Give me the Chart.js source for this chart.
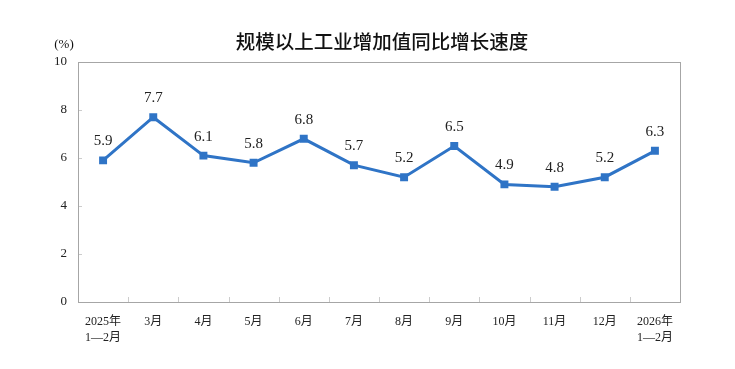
<!DOCTYPE html>
<html>
<head>
<meta charset="utf-8">
<script src="https://cdn.jsdelivr.net/npm/chart.js"></script>
<style>
  body { margin: 0; background: #fff; }
  #wrap { width: 735px; height: 369px; }
</style>
</head>
<body>
<div id="wrap"><canvas id="c" width="735" height="369"></canvas></div>
<script>
const chartTitle = "规模以上工业增加值同比增长速度"
const unitLabel = "(%)"
const months = [["2025年","1—2月"],"3月","4月","5月","6月","7月","8月","9月","10月","11月","12月",["2026年","1—2月"]]
const growth = [5.9, 7.7, 6.1, 5.8, 6.8, 5.7, 5.2, 6.5, 4.9, 4.8, 5.2, 6.3]
const yTicks = [0, 2, 4, 6, 8, 10]

const serif = "'Liberation Serif', 'Noto Sans CJK SC', serif"
const blue = "#2f74c6"

// frame, inward ticks, title and value labels
const decor = {
  id: "decor",
  beforeDatasetsDraw(chart) {
    const ctx = chart.ctx
    const a = chart.chartArea
    const x = chart.scales.x
    const y = chart.scales.y
    ctx.save()
    ctx.strokeStyle = "#cccccc"
    ctx.lineWidth = 1
    ctx.beginPath()
    for (let i = 1; i < growth.length; i++) {
      const px = Math.round((x.getPixelForValue(i - 1) + x.getPixelForValue(i)) / 2) + 0.5
      ctx.moveTo(px, a.bottom)
      ctx.lineTo(px, a.bottom - 5)
    }
    for (const v of yTicks.slice(1, -1)) {
      const py = Math.round(y.getPixelForValue(v)) + 0.5
      ctx.moveTo(a.left, py)
      ctx.lineTo(a.left + 4, py)
    }
    ctx.stroke()
    ctx.strokeStyle = "#a6a6a6"
    ctx.strokeRect(Math.round(a.left) + 0.5, Math.round(a.top) + 0.5, Math.round(a.right - a.left), Math.round(a.bottom - a.top))
    ctx.restore()
  },
  afterDatasetsDraw(chart) {
    const ctx = chart.ctx
    const a = chart.chartArea
    ctx.save()
    ctx.fillStyle = "#111"
    ctx.textAlign = "center"
    ctx.textBaseline = "middle"
    ctx.font = "500 19.5px 'Noto Sans CJK SC'"
    ctx.fillText(chartTitle, (a.left + a.right) / 2 + 3, 42)
    ctx.font = "13px " + serif
    ctx.fillText(unitLabel, 64, 45)
    ctx.font = "15px " + serif
    ctx.fillStyle = "#222"
    const meta = chart.getDatasetMeta(0)
    meta.data.forEach((pt, i) => {
      ctx.fillText(growth[i].toFixed(1), pt.x, pt.y - 19)
    })
    ctx.restore()
  }
}

new Chart(document.getElementById("c"), {
  type: "line",
  data: {
    labels: months,
    datasets: [{
      data: growth,
      borderColor: blue,
      backgroundColor: blue,
      borderWidth: 3,
      pointStyle: "rect",
      pointRadius: 3.5,
      pointHoverRadius: 3.5,
      tension: 0
    }]
  },
  options: {
    responsive: false,
    animation: false,
    layout: { padding: { top: 62, right: 55, left: 0, bottom: 0 } },
    plugins: { legend: { display: false }, tooltip: { enabled: false }, title: { display: false } },
    scales: {
      x: {
        offset: true,
        grid: { display: false },
        border: { display: false },
        ticks: { color: "#222", font: { family: serif, size: 12, lineHeight: 1.4 }, padding: 3, maxRotation: 0, autoSkip: false },
        afterFit: s => { s.height = 67 }
      },
      y: {
        min: 0,
        max: 10,
        afterBuildTicks: s => { s.ticks = yTicks.map(v => ({ value: v })) },
        grid: { display: false },
        border: { display: false },
        ticks: { color: "#222", font: { family: serif, size: 13 }, padding: 3 },
        afterFit: s => { s.width = 78 }
      }
    }
  },
  plugins: [decor]
})
</script>
</body>
</html>
